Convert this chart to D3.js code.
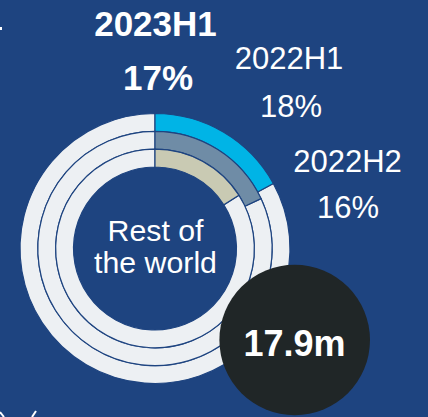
<!DOCTYPE html>
<html>
<head>
<meta charset="utf-8">
<script src="https://cdn.jsdelivr.net/npm/d3@7"></script>
<style>
  html, body { margin: 0; padding: 0; background: #1e4480; }
  svg { display: block; }
  text { font-family: "Liberation Sans", Arial, sans-serif; fill: #ffffff; }
</style>
</head>
<body>
<svg id="chart" width="428" height="417"></svg>
<script>
// Share of sales going to the rest of the world, by half-year
const periods = ["2023H1", "2022H1", "2022H2"];
const shares = [17, 18, 16];
const shareLabels = ["17%", "18%", "16%"];
const ringColors = ["#00b4e6", "#6f8ca6", "#c9cab3"];
const centerLabel = ["Rest of", "the world"];
const totalLabel = "17.9m";

const W = 428, H = 417;
const bg = "#1e4480";
const svg = d3.select("#chart");

svg.append("rect").attr("width", W).attr("height", H).attr("fill", bg);

const cx = 155, cy = 248.5;
const g = svg.append("g").attr("transform", `translate(${cx},${cy})`);

// one ring per period, outermost first
const radius = d3.scaleBand().domain(periods).range([135, 81.5]).paddingInner(0);
const angle = d3.scaleLinear().domain([0, 100]).range([0, 2 * Math.PI]);

const rings = periods.map((p, i) => ({ period: p, value: shares[i], color: ringColors[i] }));

const ring = g.selectAll("g.ring").data(rings).join("g").attr("class", "ring");

// remainder of each ring
ring.append("path")
  .attr("d", d => d3.arc()
    .innerRadius(radius(d.period))
    .outerRadius(radius(d.period) + radius.bandwidth())
    .startAngle(angle(d.value))
    .endAngle(angle(100))())
  .attr("fill", "#edf0f3")
  .attr("stroke", bg)
  .attr("stroke-width", 1.2);

// share of each ring
ring.append("path")
  .attr("d", d => d3.arc()
    .innerRadius(radius(d.period))
    .outerRadius(radius(d.period) + radius.bandwidth())
    .startAngle(0)
    .endAngle(angle(d.value))())
  .attr("fill", d => d.color)
  .attr("stroke", bg)
  .attr("stroke-width", 1.2);

// centre caption
g.append("text").attr("text-anchor", "middle").attr("font-size", 30.3)
  .selectAll("tspan").data(centerLabel).join("tspan")
  .attr("x", 0.5).attr("y", (d, i) => -7.5 + i * 32)
  .text(d => d);

// period labels
const labelPos = [
  { x: 155.5, y: 36, y2: 90, x2: 158, bold: true, size: 35 },
  { x: 289, y: 69, y2: 117, x2: 291, bold: false, size: 31 },
  { x: 347.5, y: 172, y2: 218, x2: 348, bold: false, size: 31 }
];
periods.forEach((p, i) => {
  const L = labelPos[i];
  svg.append("text").attr("x", L.x).attr("y", L.y).attr("text-anchor", "middle")
    .attr("font-size", L.size).attr("font-weight", L.bold ? "bold" : "normal").text(p);
  svg.append("text").attr("x", L.x2).attr("y", L.y2).attr("text-anchor", "middle")
    .attr("font-size", L.size).attr("font-weight", L.bold ? "bold" : "normal").text(shareLabels[i]);
});

// total badge
svg.append("circle").attr("cx", 294.7).attr("cy", 340).attr("r", 75.3).attr("fill", "#202627");
svg.append("text").attr("x", 294.5).attr("y", 355.7).attr("text-anchor", "middle")
  .attr("font-size", 36).attr("font-weight", "bold").text(totalLabel);

// small decorative strokes at the edges
svg.append("rect").attr("x", 0).attr("y", 27).attr("width", 2).attr("height", 3).attr("fill", "#ffffff");
svg.append("line").attr("x1", 0).attr("y1", 412).attr("x2", 4).attr("y2", 417)
  .attr("stroke", "#ffffff").attr("stroke-width", 2);
svg.append("line").attr("x1", 36).attr("y1", 411).attr("x2", 32).attr("y2", 417)
  .attr("stroke", "#ffffff").attr("stroke-width", 2);
</script>
</body>
</html>
